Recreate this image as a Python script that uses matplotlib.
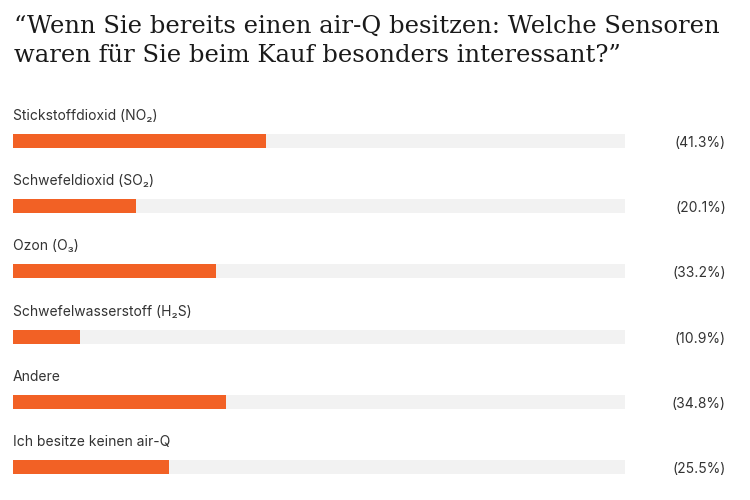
import matplotlib
matplotlib.use('Agg')
import matplotlib.pyplot as plt

categories = [
    'Stickstoffdioxid (NO₂)',
    'Schwefeldioxid (SO₂)',
    'Ozon (O₃)',
    'Schwefelwasserstoff (H₂S)',
    'Andere',
    'Ich besitze keinen air-Q',
]
values = [41.3, 20.1, 33.2, 10.9, 34.8, 25.5]

orange = '#f26125'
track = '#f2f2f2'
sans = ['Inter', 'DejaVu Sans']

fig = plt.figure(figsize=(7.5, 5), dpi=100)
ax = fig.add_axes([13 / 750, 0, 612 / 750, 1])
ax.set_xlim(0, 100)
ax.set_ylim(5.506, -2.163)
ax.axis('off')

ypos = list(range(len(categories)))
ax.barh(ypos, [100] * len(values), height=0.215, color=track, linewidth=0)
ax.barh(ypos, values, height=0.215, color=orange, linewidth=0)

for i, (cat, v) in enumerate(zip(categories, values)):
    ax.text(0, i - 0.385, cat, family=sans, fontsize=10, color='#333333',
            ha='left', va='center')
    ax.text(116.5, i + 0.03, f'({v:.1f}%)', family=sans, fontsize=10,
            color='#333333', ha='right', va='center', clip_on=False)

fig.text(14 / 750, 1 - 15 / 500,
         '“Wenn Sie bereits einen air-Q besitzen: Welche Sensoren\n'
         'waren für Sie beim Kauf besonders interessant?”',
         family=['DejaVu Serif'], fontsize=17.5,
         color='#1a1a1a', ha='left', va='top', linespacing=1.36)

fig.savefig('out.png', dpi=100)
